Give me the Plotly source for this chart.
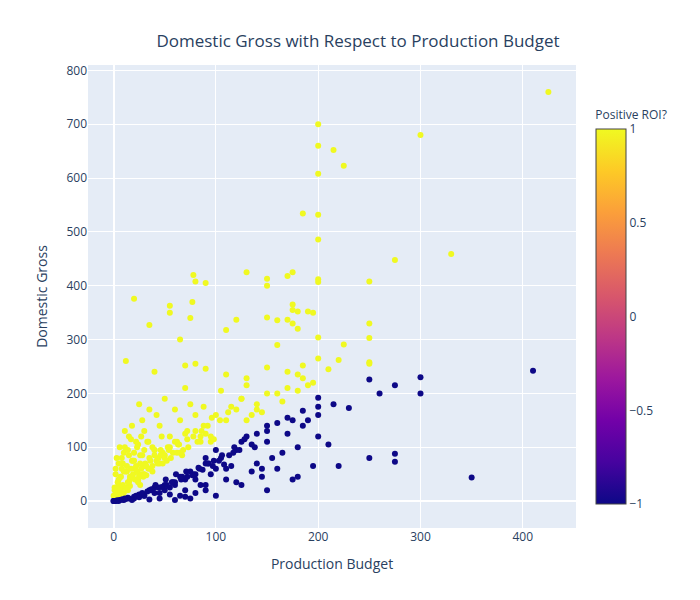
import plotly.graph_objects as go

# Production budget / domestic gross (millions)
budget = [
    425, 300, 200, 200, 215, 225, 200, 185, 200, 200, 330, 275, 130, 175, 78, 150, 200, 80, 90, 170,
    250, 150, 200, 20, 77, 55, 55, 75, 35, 150, 160, 120, 175, 175, 180, 190, 195, 170, 175, 180,
    250, 250, 200, 110, 65, 160, 225, 200, 220, 250, 250, 185, 210, 12, 40, 80, 70, 90, 110, 130,
    150, 170, 180, 185, 195, 170, 180, 150, 5, 8, 10, 15, 18, 22, 25, 28, 30, 35, 38, 42,
    45, 48, 50, 55, 60, 62, 65, 68, 70, 72, 75, 80, 85, 88, 92, 95, 100, 105, 110, 115,
    120, 125, 130, 135, 140, 145, 2, 3, 4, 6, 7, 9, 11, 13, 14, 16, 17, 19, 21, 23,
    24, 26, 27, 29, 31, 33, 36, 40, 44, 47, 52, 58, 63, 67, 73, 78, 82, 86, 90, 98,
    1, 3, 5, 8, 12, 15, 20, 25, 30, 35, 40, 45, 50, 55, 60, 65, 70, 10, 18, 26,
    34, 42, 14, 22, 30, 38, 46, 54, 62, 6, 16, 24, 32, 48, 56, 64, 72, 80, 88, 96,
    104, 112, 125, 140, 160, 165, 190, 130, 95, 85,
    0, 1, 2, 3, 4, 5, 6, 7, 8, 9, 10, 11, 12, 13, 14, 15, 16, 17, 18, 19,
    20, 21, 22, 23, 24, 25, 26, 27, 28, 29, 30, 32, 34, 36, 38, 40, 43, 46, 50, 53,
    410, 300, 300, 275, 260, 250, 230, 215, 220, 275, 275, 350, 200, 200, 200, 185, 170, 175, 180, 195,
    160, 150, 140, 130, 125, 145, 150, 120, 100, 90, 80, 70, 60, 50, 40, 30, 20, 10, 5, 0,
    100, 110, 90, 65, 75, 180, 190, 170, 165, 155, 150, 145, 140, 135, 125, 120, 115, 110, 105, 100,
    95, 90, 85, 80, 75, 70, 65, 60, 55, 50, 45, 40, 35, 30, 25, 20, 15, 12, 8, 3,
    2, 6, 14, 22, 28, 36, 44, 52, 58, 66, 72, 78, 84, 92, 98, 106, 118, 128, 138, 150,
    160, 175, 185, 200, 210, 250, 60, 70, 80, 90, 45, 55, 35, 25, 18, 1, 4, 9, 11, 0,
    33, 37, 41, 47, 51, 57, 61, 67, 71, 77, 83, 87, 93, 97, 103, 108, 113, 117, 123, 135,
]
gross = [
    760, 680, 700, 660, 652, 623, 608, 534, 532, 486, 459, 448, 425, 425, 420, 413, 412, 408, 405, 418,
    408, 400, 407, 376, 370, 363, 350, 340, 327, 341, 336, 337, 365, 355, 352, 352, 350, 337, 330, 320,
    330, 303, 304, 318, 300, 290, 291, 265, 262, 258, 255, 252, 245, 260, 240, 255, 252, 246, 235, 228,
    248, 240, 235, 228, 220, 210, 205, 200, 30, 60, 90, 120, 140, 110, 180, 150, 130, 170, 100, 160,
    140, 90, 190, 120, 170, 110, 150, 95, 210, 130, 180, 160, 120, 175, 140, 110, 160, 205, 150, 175,
    170, 190, 215, 160, 180, 165, 50, 80, 20, 100, 45, 70, 130, 55, 95, 40, 115, 75, 60, 100,
    35, 85, 120, 45, 70, 110, 60, 95, 80, 120, 75, 90, 105, 85, 100, 120, 110, 130, 125, 115,
    20, 10, 40, 25, 55, 35, 75, 50, 65, 80, 95, 70, 85, 100, 110, 90, 125, 15, 45, 30,
    60, 75, 20, 40, 50, 65, 85, 95, 90, 12, 28, 38, 48, 70, 80, 105, 115, 130, 140, 155,
    150, 165, 190, 170, 200, 185, 215, 150, 120, 110,
    10, 25, 60, 15, 35, 70, 20, 45, 80, 30, 55, 100, 25, 65, 35, 85, 45, 60, 75, 50,
    90, 40, 65, 55, 105, 45, 70, 60, 85, 50, 95, 65, 110, 75, 55, 85, 70, 95, 80, 100,
    242, 230, 200, 215, 200, 226, 173, 180, 65, 88, 73, 44, 192, 175, 120, 168, 155, 40, 45, 65,
    145, 140, 125, 120, 110, 60, 20, 35, 95, 80, 50, 40, 30, 20, 15, 10, 5, 2, 0, 0,
    10, 60, 20, 10, 5, 100, 150, 125, 90, 80, 110, 45, 70, 55, 30, 95, 65, 40, 80, 60,
    50, 70, 30, 40, 55, 20, 45, 35, 25, 30, 15, 25, 20, 10, 12, 8, 5, 4, 3, 1,
    0, 2, 6, 10, 15, 20, 25, 30, 35, 40, 45, 50, 60, 70, 75, 85, 100, 115, 100, 130,
    60, 150, 140, 160, 105, 80, 2, 8, 15, 30, 5, 12, 3, 7, 2, 0, 1, 3, 5, 0,
    18, 22, 30, 26, 40, 35, 50, 45, 55, 48, 62, 58, 70, 65, 75, 68, 85, 90, 95, 105,
]
roi = [1 if g > b else -1 for b, g in zip(budget, gross)]

fig = go.Figure(go.Scatter(
    x=budget, y=gross, mode="markers",
    marker=dict(size=6, color=roi, colorscale="Plasma", cmin=-1, cmax=1,
                colorbar=dict(title=dict(text="Positive ROI?", font=dict(size=12)),
                              tickvals=[-1, -0.5, 0, 0.5, 1], len=0.9, y=0.48)),
    showlegend=False,
))
fig.update_layout(
    width=700, height=600,
    margin=dict(t=57, b=80, l=80, r=132),
    title=dict(text="Domestic Gross with Respect to Production Budget", x=0.5, y=0.955,
               font=dict(size=17)),
    xaxis=dict(title="Production Budget", range=[-25, 452], dtick=100),
    yaxis=dict(title="Domestic Gross", range=[-50, 810], dtick=100),
    template="plotly",
)
fig.write_html("out.html")
